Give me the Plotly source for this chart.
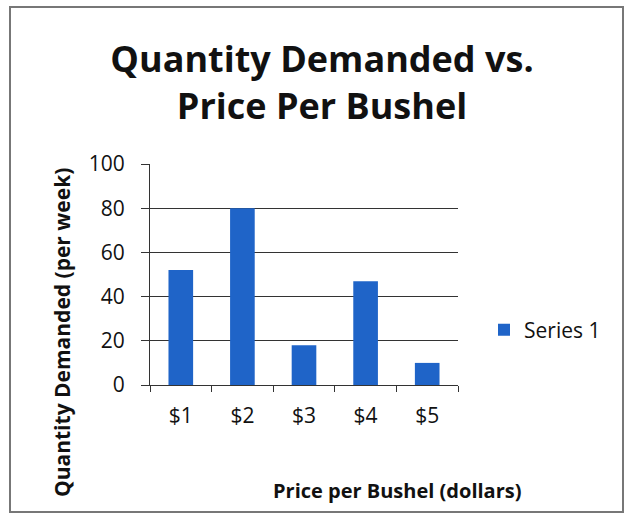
import plotly.graph_objects as go

categories = ["$1", "$2", "$3", "$4", "$5"]
values = [52, 80, 18, 47, 10]
series_name = "Series 1"
y_ticks = [0, 20, 40, 60, 80, 100]

W, H = 634, 517
L, R, T, B = 150, 176, 164, 132
pw, ph = W - L - R, H - T - B

def px(x):
    return (x - L) / pw

def py(y):
    return (H - B - y) / ph

FONT = "Open Sans"

fig = go.Figure()
fig.add_trace(go.Bar(x=categories, y=values, name=series_name,
                     marker=dict(color="#1F64C8", line=dict(width=0))))

fig.update_layout(
    width=W, height=H,
    margin=dict(l=L, r=R, t=T, b=B, pad=0),
    paper_bgcolor="white", plot_bgcolor="white",
    font=dict(family=FONT, color="#111111", size=20),
    bargap=0.6,
    showlegend=True,
    legend=dict(x=px(484), y=py(330), xanchor="left", yanchor="middle",
                xref="paper", yref="paper", font=dict(size=21, family=FONT),
                bgcolor="rgba(0,0,0,0)", itemwidth=30),
    title=dict(text="<b>Quantity Demanded vs.<br>Price Per Bushel</b>",
               x=322 / W, xref="container", xanchor="center",
               y=1 - 72 / H, yref="container", yanchor="middle",
               font=dict(size=36, family=FONT, color="#111111")),
    xaxis=dict(showline=True, linecolor="#333333", linewidth=1,
               ticks="outside", tickson="boundaries", ticklen=6,
               tickcolor="#333333", showgrid=False, ticklabelstandoff=12,
               tickfont=dict(size=21, family=FONT)),
    yaxis=dict(range=[0, 100], tickvals=y_ticks, showline=True,
               linecolor="#333333", linewidth=1, ticks="outside",
               ticklen=8, tickcolor="#333333", showgrid=True,
               gridcolor="#333333", gridwidth=1, zeroline=False,
               ticklabelstandoff=12,
               tickfont=dict(size=21, family=FONT)),
    shapes=[dict(type="rect", xref="paper", yref="paper",
                 x0=px(10), x1=px(623), y0=py(512), y1=py(7),
                 line=dict(color="#777777", width=2), layer="below")],
    annotations=[
        dict(text="<b>Quantity Demanded (per week)</b>", xref="paper", yref="paper",
             x=px(62), y=py(333), textangle=-90, showarrow=False,
             xanchor="center", yanchor="middle",
             font=dict(size=21, family=FONT, color="#111111")),
        dict(text="<b>Price per Bushel (dollars)</b>", xref="paper", yref="paper",
             x=px(397), y=py(490), showarrow=False,
             xanchor="center", yanchor="middle",
             font=dict(size=20, family=FONT, color="#111111")),
    ],
)

fig.write_html("out.html", config={"displayModeBar": False},
               post_script="document.body.style.margin='0';")
